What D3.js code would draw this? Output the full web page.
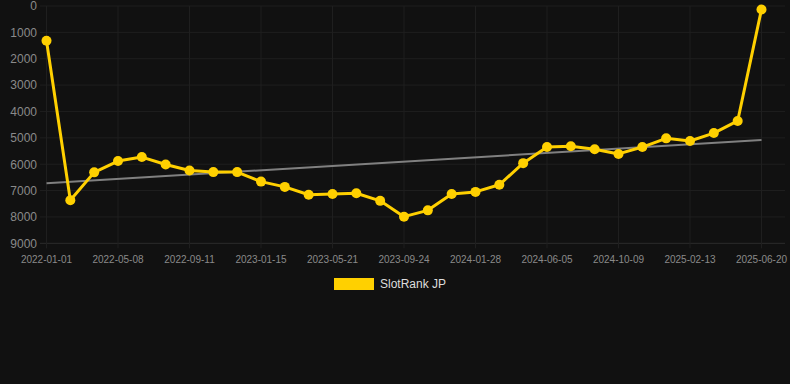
<!DOCTYPE html>
<html>
<head>
<meta charset="utf-8">
<script src="https://cdn.jsdelivr.net/npm/d3@7"></script>
<style>
  html, body { margin: 0; padding: 0; background: #111111; }
  svg { display: block; font-family: "Liberation Sans", Arial, sans-serif; }
</style>
</head>
<body>
<svg id="chart" width="790" height="384"></svg>
<script>
// one entry per point, ~6 weeks apart
const dates = [
  "2022-01-01", "2022-02-12", "2022-03-26", "2022-05-08", "2022-06-19", "2022-07-31",
  "2022-09-11", "2022-10-23", "2022-12-04", "2023-01-15", "2023-02-26", "2023-04-09",
  "2023-05-21", "2023-07-02", "2023-08-13", "2023-09-24", "2023-11-05", "2023-12-17",
  "2024-01-28", "2024-03-11", "2024-04-23", "2024-06-05", "2024-07-17", "2024-08-28",
  "2024-10-09", "2024-11-20", "2025-01-01", "2025-02-13", "2025-03-28", "2025-05-09",
  "2025-06-20"
]
const rankValues = [
  1320, 7370, 6310, 5880, 5730, 6010,
  6240, 6300, 6300, 6660, 6860, 7160,
  7130, 7100, 7390, 7990, 7750, 7130,
  7050, 6780, 5960, 5350, 5320, 5430,
  5610, 5350, 5020, 5120, 4820, 4360,
  130
]
const yTicks = [0, 1000, 2000, 3000, 4000, 5000, 6000, 7000, 8000, 9000]
const seriesName = "SlotRank JP"

const svg = d3.select("#chart")
const color = "#FFD000"

const x = d3.scalePoint()
  .domain(dates)
  .range([46.5, 761.5])

const y = d3.scaleLinear()
  .domain([0, 9000])
  .range([6, 243.3])

const labelDates = dates.filter((d, i) => i % 3 === 0)

// horizontal grid
svg.append("g")
  .selectAll("line")
  .data(yTicks)
  .enter()
  .append("line")
  .attr("x1", 40)
  .attr("x2", 785)
  .attr("y1", d => y(d))
  .attr("y2", d => y(d))
  .attr("stroke", d => d === 9000 ? "#2c2c2c" : "#1f1f1f")
  .attr("stroke-width", 1)

// vertical grid
svg.append("g")
  .selectAll("line")
  .data(labelDates)
  .enter()
  .append("line")
  .attr("x1", d => x(d))
  .attr("x2", d => x(d))
  .attr("y1", y(0))
  .attr("y2", y(9000) + 5)
  .attr("stroke", "#1f1f1f")
  .attr("stroke-width", 1)

// y labels
svg.append("g")
  .selectAll("text")
  .data(yTicks)
  .enter()
  .append("text")
  .attr("x", 37)
  .attr("y", d => y(d))
  .attr("dy", "0.36em")
  .attr("text-anchor", "end")
  .attr("fill", "#8a8a8a")
  .style("font-size", "12px")
  .text(d => d)

// x labels
svg.append("g")
  .selectAll("text")
  .data(labelDates)
  .enter()
  .append("text")
  .attr("x", d => x(d))
  .attr("y", 259)
  .attr("dy", "0.36em")
  .attr("text-anchor", "middle")
  .attr("fill", "#8a8a8a")
  .style("font-size", "10px")
  .text(d => d)

// linear trend over the series
const n = rankValues.length
const meanI = d3.mean(rankValues, (v, i) => i)
const meanV = d3.mean(rankValues)
const slope = d3.sum(rankValues, (v, i) => (i - meanI) * (v - meanV)) /
  d3.sum(rankValues, (v, i) => (i - meanI) * (i - meanI))
const icpt = meanV - slope * meanI

svg.append("line")
  .attr("x1", x(dates[0]))
  .attr("x2", x(dates[n - 1]))
  .attr("y1", y(icpt))
  .attr("y2", y(icpt + slope * (n - 1)))
  .attr("stroke", "#808080")
  .attr("stroke-width", 2)

const line = d3.line()
  .x((v, i) => x(dates[i]))
  .y(v => y(v))

svg.append("path")
  .datum(rankValues)
  .attr("d", line)
  .attr("fill", "none")
  .attr("stroke", color)
  .attr("stroke-width", 3)
  .attr("stroke-linejoin", "round")

svg.append("g")
  .selectAll("circle")
  .data(rankValues)
  .enter()
  .append("circle")
  .attr("cx", (v, i) => x(dates[i]))
  .attr("cy", v => y(v))
  .attr("r", 5)
  .attr("fill", color)

// legend
const legend = svg.append("g")
legend.append("rect")
  .attr("x", 334)
  .attr("y", 278)
  .attr("width", 40)
  .attr("height", 12)
  .attr("fill", color)
legend.append("text")
  .attr("x", 380)
  .attr("y", 284)
  .attr("dy", "0.36em")
  .attr("fill", "#dddddd")
  .style("font-size", "12px")
  .text(seriesName)
</script>
</body>
</html>
